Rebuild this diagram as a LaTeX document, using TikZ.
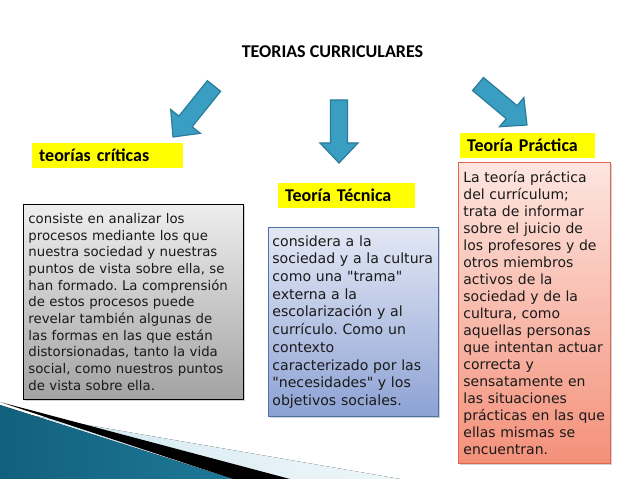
\documentclass[tikz,border=0pt]{standalone}
\usepackage{fontspec}
\setmainfont{DejaVu Sans}[Ligatures=TeXOff]
\newfontfamily\calibri{Carlito}
\usepackage{tikz}
\usetikzlibrary{calc,shadows}

\definecolor{amarillo}{HTML}{FFFF00}
\definecolor{flechaazul}{HTML}{3A9EC2}
\definecolor{flechaborde}{HTML}{2A7C9A}
\definecolor{grisarriba}{HTML}{EEEEEE}
\definecolor{grisabajo}{HTML}{A3A3A3}
\definecolor{azularriba}{HTML}{E3E8F5}
\definecolor{azulabajo}{HTML}{8DA2D4}
\definecolor{azulborde}{HTML}{4F6FA8}
\definecolor{rojoarriba}{HTML}{FDE6E0}
\definecolor{rojoabajo}{HTML}{F4907A}
\definecolor{rojoborde}{HTML}{E0664D}
\definecolor{tealoscuro}{HTML}{12617C}
\definecolor{tealclaro}{HTML}{4DB6D8}
\definecolor{tealmedio}{HTML}{1E7898}
\definecolor{bandaclara}{HTML}{CFE7F0}
\definecolor{textoosc}{HTML}{1A1A1A}

\newcommand{\flecha}[2]{%
  \coordinate (#1-base) at ($(#2)!20pt!(#1)$);
  \draw[flechagorda] ($(#1)!8.5pt!90:(#1-base)$) -- ($(#1-base)!8.5pt!-90:(#1)$)
    -- ($(#1-base)!19pt!-90:(#1)$) -- (#2) -- ($(#1-base)!19pt!90:(#1)$)
    -- ($(#1-base)!8.5pt!90:(#1)$) -- ($(#1)!8.5pt!-90:(#1-base)$) -- cycle;}

\begin{document}
\frenchspacing
\begin{tikzpicture}[x=1pt,y=1pt,
  etiqueta/.style={fill=amarillo, anchor=north west, minimum height=25pt,
    inner xsep=7pt, inner ysep=0pt, align=left, text=black,
    font=\calibri\bfseries\fontsize{18}{20}\selectfont},
  caja/.style={draw, anchor=north west, align=left, inner ysep=0pt, text=textoosc,
    drop shadow={shadow xshift=2pt, shadow yshift=-2pt, opacity=.35}},
  flechagorda/.style={fill=flechaazul, draw=flechaborde, line width=1.2pt, line join=miter}]

\fill[white] (0,0) rectangle (638,479);
\useasboundingbox (0,0) rectangle (638,479);

\fill[left color=bandaclara, right color=bandaclara!35] (0,69) -- (400,0) -- (0,0) -- cycle;
\fill[black] (0,77) -- (290,0) -- (233,0) -- cycle;
\fill[left color=tealoscuro, middle color=tealclaro, right color=tealmedio] (0,74) -- (233,0) -- (0,0) -- cycle;

\node[font=\calibri\bfseries\fontsize{18}{20}\selectfont] (titulo) at (332.5,427) {TEORIAS CURRICULARES};

\coordinate (flecha1-ini) at (214,393);
\coordinate (flecha1-fin) at (173,342);
\coordinate (flecha2-ini) at (339,379);
\coordinate (flecha2-fin) at (339,316);
\coordinate (flecha3-ini) at (478,395);
\coordinate (flecha3-fin) at (527,354);
\flecha{flecha1-ini}{flecha1-fin}
\flecha{flecha2-ini}{flecha2-fin}
\flecha{flecha3-ini}{flecha3-fin}

\node[etiqueta, text width=137pt] (critica) at (32,336) {teorías críticas};
\node[etiqueta, text width=123pt] (tecnica) at (278,296) {Teoría Técnica};
\node[etiqueta, text width=121pt] (practica) at (460,346) {Teoría Práctica};

\node[caja, top color=grisarriba, bottom color=grisabajo, draw=black, line width=.8pt,
  minimum width=220pt, minimum height=195pt, inner xsep=5pt, text width=210pt,
  font=\fontsize{13.3}{16.7}\selectfont] (critica-txt) at (23,275)
  {consiste en analizar los\\procesos mediante los que\\nuestra sociedad y nuestras\\puntos de vista sobre ella, se\\han formado. La comprensión\\de estos procesos puede\\revelar también algunas de\\las formas en las que están\\distorsionadas, tanto la vida\\social, como nuestros puntos\\de vista sobre ella.};

\node[caja, top color=azularriba, bottom color=azulabajo, draw=azulborde, line width=.8pt,
  minimum width=170pt, minimum height=189pt, inner xsep=4pt, text width=162pt,
  font=\fontsize{14.1}{17.7}\selectfont] (tecnica-txt) at (268,252)
  {considera a la\\sociedad y a la cultura\\como una "trama"\\externa a la\\escolarización y al\\currículo. Como un\\contexto\\caracterizado por las\\"necesidades" y los\\objetivos sociales.};

\node[caja, top color=rojoarriba, bottom color=rojoabajo, draw=rojoborde, line width=.8pt,
  minimum width=152pt, minimum height=301pt, inner xsep=5pt, text width=142pt,
  font=\fontsize{14}{17}\selectfont] (practica-txt) at (458,317)
  {La teoría práctica\\del currículum;\\trata de informar\\sobre el juicio de\\los profesores y de\\otros miembros\\activos de la\\sociedad y de la\\cultura, como\\aquellas personas\\que intentan actuar\\correcta y\\sensatamente en\\las situaciones\\prácticas en las que\\ellas mismas se\\encuentran.};
\end{tikzpicture}
\end{document}
